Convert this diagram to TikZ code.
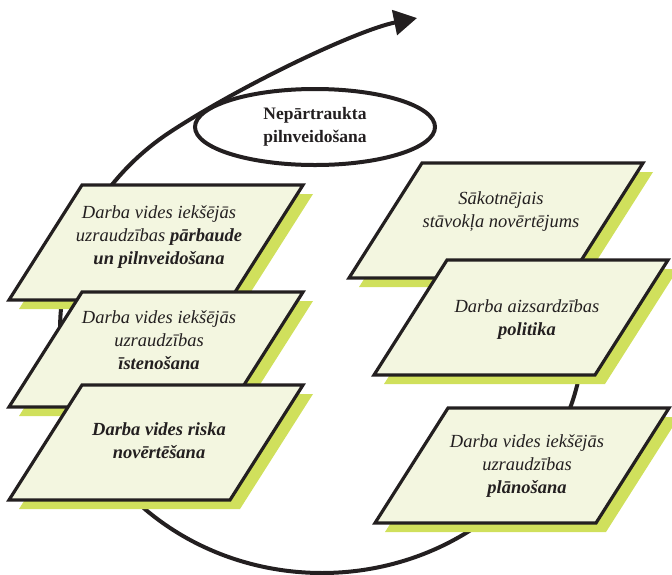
\documentclass[tikz,border=0pt]{standalone}
\usepackage{fontspec}
\setmainfont{Liberation Serif}
\usetikzlibrary{arrows.meta,shapes.geometric}

\definecolor{facecream}{RGB}{243,246,224}
\definecolor{shadegreen}{RGB}{208,224,92}
\definecolor{inkdark}{RGB}{35,31,32}

\tikzset{
  slabedge/.style={fill=facecream, draw=inkdark, line width=3.2pt, line join=miter},
  slabtext/.style={align=center, text=inkdark, inner sep=0pt,
    font=\fontsize{18.5}{23}\selectfont\itshape},
  cycleline/.style={draw=inkdark, line width=4pt},
  goalnode/.style={ellipse, draw=inkdark, line width=4pt, minimum width=240pt,
    minimum height=76pt, inner sep=0pt, align=center, text=inkdark,
    font=\fontsize{17.5}{23}\selectfont\bfseries},
  % slanted card with a green offset shadow; origin = top-left corner
  slab/.pic={
    \fill[shadegreen] (10,9) -- ++(221,0) -- ++(-73,115) -- ++(-221,0) -- cycle;
    \draw[slabedge] (0,0) -- ++(221,0) -- ++(-73,115) -- ++(-221,0) -- cycle;
  }
}

\begin{document}
\begin{tikzpicture}[x=1pt,y=-1pt]
\useasboundingbox (0,0) rectangle (672,574);

% improvement cycle: elliptic loop that leaves as an arrow at the top
\draw[cycleline, -{Triangle[length=23pt,width=25pt]}]
  plot[domain=-32:235, samples=140, smooth] ({322+262*cos(\x)},{330+243*sin(\x)})
  .. controls (246.8,82.2) and (358,30) .. (417,18);

\node[goalnode] (goal) at (315,127) {Nepārtraukta\\pilnveidošana};

% left column
\pic at (82,185) {slab};
\node[slabtext] (check) at (159,237)
  {Darba vides iekšējās\\uzraudzības \textbf{pārbaude}\\\textbf{un pilnveidošana}};
\pic at (82,292) {slab};
\node[slabtext] (impl) at (159,340)
  {Darba vides iekšējās\\uzraudzības\\\textbf{īstenošana}};
\pic at (82,385) {slab};
\node[slabtext] (risk) at (159,441)
  {\textbf{Darba vides riska}\\\textbf{novērtēšana}};

% right column
\pic at (422,163) {slab};
\node[slabtext] (initial) at (501,212)
  {Sākotnējais\\stāvokļa novērtējums};
\pic at (447,260) {slab};
\node[slabtext] (policy) at (527,320)
  {Darba aizsardzības\\\textbf{politika}};
\pic at (448,408) {slab};
\node[slabtext] (plan) at (527,466)
  {Darba vides iekšējās\\uzraudzības\\\textbf{plānošana}};
\end{tikzpicture}
\end{document}
